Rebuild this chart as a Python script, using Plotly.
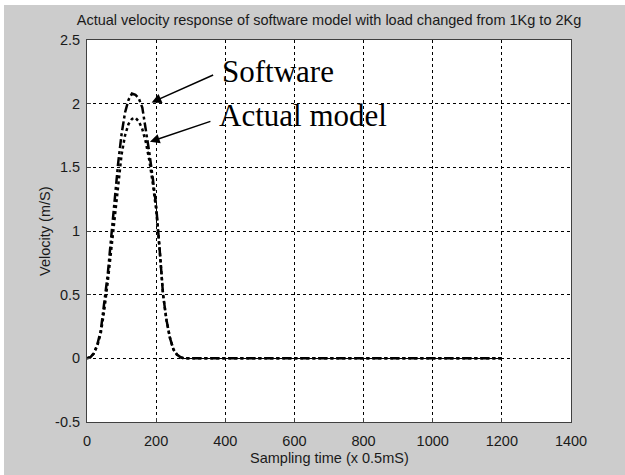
import plotly.graph_objects as go

# ---- data ----
sample_x = [0, 10, 20, 30, 40, 50, 60, 70, 80, 90, 100, 110, 120, 130, 140, 150,
            160, 170, 180, 190, 200, 210, 220, 230, 240, 250, 260, 270, 280, 300,
            400, 600, 800, 1000, 1200]
software_v = [0.00, 0.01, 0.04, 0.11, 0.22, 0.42, 0.66, 0.95, 1.25, 1.53, 1.76, 1.93,
              2.03, 2.08, 2.07, 2.04, 1.97, 1.80, 1.62, 1.42, 1.20, 0.86, 0.50, 0.30,
              0.16, 0.07, 0.03, 0.01, 0.00, 0.00, 0.00, 0.00, 0.00, 0.00, 0.00]
actual_v = [0.00, 0.01, 0.04, 0.10, 0.20, 0.38, 0.60, 0.86, 1.12, 1.38, 1.60, 1.75,
            1.84, 1.88, 1.89, 1.86, 1.80, 1.70, 1.56, 1.38, 1.17, 0.86, 0.50, 0.30,
            0.16, 0.07, 0.03, 0.01, 0.00, 0.00, 0.00, 0.00, 0.00, 0.00, 0.00]

x_tickvals = [0, 200, 400, 600, 800, 1000, 1200, 1400]
x_ticktext = ["0", "200", "400", "600", "800", "1000", "1200", "1400"]
y_tickvals = [-0.5, 0, 0.5, 1, 1.5, 2, 2.5]
y_ticktext = ["-0.5", "0", "0.5", "1", "1.5", "2", "2.5"]

title_text = "Actual velocity response of software model with load changed from 1Kg to 2Kg"
x_title = "Sampling time (x 0.5mS)"
y_title = "Velocity (m/S)"
label_software = "Software"
label_actual = "Actual model"

SANS = "Liberation Sans, Arial, sans-serif"
SERIF = "Liberation Serif, Times New Roman, serif"
TXT = "#1a1a1a"
FS = 14.5

fig = go.Figure()
fig.add_trace(go.Scatter(x=sample_x, y=actual_v, mode="lines", name=label_actual,
                         line=dict(color="black", width=2.5, dash="dot")))
fig.add_trace(go.Scatter(x=sample_x, y=software_v, mode="lines", name=label_software,
                         line=dict(color="black", width=2.5, dash="dashdot")))

axis_common = dict(showgrid=True, gridcolor="black", griddash="3px,3px", gridwidth=1,
                   showline=True, linecolor="#404040", linewidth=1, mirror=True,
                   ticks="inside", ticklen=4, tickcolor="#404040",
                   zeroline=False, tickfont=dict(family=SANS, size=FS, color=TXT))

fig.update_xaxes(range=[0, 1400], tickvals=x_tickvals, ticktext=x_ticktext,
                 ticklabelstandoff=6, **axis_common)
fig.update_yaxes(range=[-0.5, 2.5], tickvals=y_tickvals, ticktext=y_ticktext,
                 ticklabelstandoff=3, **axis_common)

annotations = [
    dict(text=x_title, xref="paper", yref="paper", x=0.5, y=-0.094,
         xanchor="center", yanchor="middle", showarrow=False,
         font=dict(family=SANS, size=FS, color=TXT)),
    dict(text=y_title, xref="paper", yref="paper", x=-0.087, y=0.5,
         xanchor="center", yanchor="middle", showarrow=False, textangle=-90,
         font=dict(family=SANS, size=FS, color=TXT)),
    dict(text=label_software, xref="x", yref="y", x=385, y=2.25,
         xanchor="left", yanchor="middle", showarrow=False,
         font=dict(family=SERIF, size=31, color="black")),
    dict(text=label_actual, xref="x", yref="y", x=376, y=1.91,
         xanchor="left", yanchor="middle", showarrow=False,
         font=dict(family=SERIF, size=31, color="black")),
    dict(text="", xref="x", yref="y", x=187, y=2.01, ax=63, ay=-28,
         showarrow=True, arrowhead=2, arrowsize=1.3, arrowwidth=1.5,
         arrowcolor="black", standoff=0),
    dict(text="", xref="x", yref="y", x=182, y=1.70, ax=62, ay=-21,
         showarrow=True, arrowhead=2, arrowsize=1.3, arrowwidth=1.5,
         arrowcolor="black", standoff=0),
]

fig.update_layout(
    width=621, height=470,
    margin=dict(l=83, r=54, t=35, b=53),
    paper_bgcolor="#cccccc", plot_bgcolor="white",
    showlegend=False,
    title=dict(text=title_text, x=0.5, xref="paper", xanchor="center",
               y=1 - 15 / 470, yref="container", yanchor="middle",
               font=dict(family=SANS, size=FS, color=TXT)),
    annotations=annotations,
)

fig.write_html("out.html",
               post_script="document.body.style.margin='5px 0 0 4px';")
